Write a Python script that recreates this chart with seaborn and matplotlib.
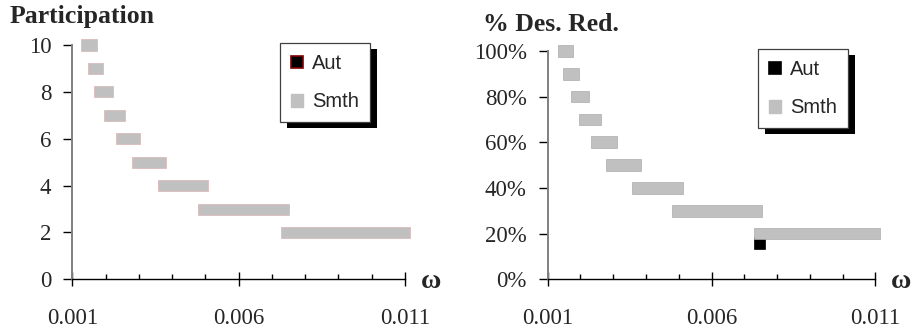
import seaborn as sns
import matplotlib.pyplot as plt
from matplotlib.patches import Patch, Rectangle
from matplotlib.ticker import MultipleLocator, FixedLocator

# Participation ranges (omega from .. to) for each level
part_levels = [10, 9, 8, 7, 6, 5, 4, 3, 2]
part_lo = [0.00125, 0.00148, 0.00166, 0.00196, 0.00232, 0.00280, 0.00358, 0.00477, 0.00727]
part_hi = [0.00173, 0.00191, 0.00221, 0.00257, 0.00304, 0.00381, 0.00507, 0.00750, 0.01116]

# % desired reduction ranges
red_levels = [100, 90, 80, 70, 60, 50, 40, 30, 20]
red_lo = [0.00131, 0.00147, 0.00172, 0.00197, 0.00231, 0.00279, 0.00358, 0.00480, 0.00729]
red_hi = [0.00177, 0.00196, 0.00225, 0.00262, 0.00311, 0.00384, 0.00512, 0.00753, 0.01115]
aut_level = [16]
aut_lo = [0.00729]
aut_hi = [0.00764]

x_ticks = [0.001, 0.006, 0.011]
x_labels = ['0.001', '0.006', '0.011']

sns.set_style('white')
plt.rcParams['font.family'] = ['Liberation Serif', 'DejaVu Serif']

fig = plt.figure(figsize=(9.12, 3.34), dpi=100)
W, H = 912, 334
ax1 = fig.add_axes([72.3 / W, 1 - 279.3 / H, 332.7 / W, 234.3 / H])
ax2 = fig.add_axes([547.7 / W, 1 - 279.3 / H, 327.6 / W, 228.3 / H])


def range_bars(ax, levels, lo, hi, height, color, edge):
    widths = [h - l for l, h in zip(lo, hi)]
    ax.barh(levels, widths, left=lo, height=height, color=color,
            edgecolor=edge, linewidth=0.5, clip_on=False, zorder=3)


def style_axis(ax, yticks, ylabels, ymax):
    ax.set_xlim(0.001, 0.011)
    ax.set_ylim(0, ymax)
    for s in ['top', 'right']:
        ax.spines[s].set_visible(False)
    ax.spines['left'].set_color('#808080')
    ax.spines['left'].set_linewidth(1.4)
    ax.spines['bottom'].set_color('black')
    ax.spines['bottom'].set_linewidth(1.0)
    ax.xaxis.set_major_locator(FixedLocator(x_ticks))
    ax.xaxis.set_minor_locator(MultipleLocator(0.001))
    ax.set_xticklabels(x_labels)
    ax.set_yticks(yticks)
    ax.set_yticklabels(ylabels)
    ax.tick_params(axis='x', which='major', direction='inout', length=9.5,
                   width=1, color='black', pad=16, labelsize=16.5, bottom=True)
    ax.tick_params(axis='x', which='minor', direction='in', length=3.8,
                   width=1, color='black', bottom=True)
    ax.tick_params(axis='y', direction='out', length=6.5, width=1,
                   color='black', pad=8.5, labelsize=16.5, left=True)


range_bars(ax1, part_levels, part_lo, part_hi, 0.47, '#c0c0c0', '#dcb4b4')
style_axis(ax1, [0, 2, 4, 6, 8, 10], ['0', '2', '4', '6', '8', '10'], 10)

range_bars(ax2, aut_level, aut_lo, aut_hi, 5.1, 'black', 'black')
range_bars(ax2, red_levels, red_lo, red_hi, 5.1, '#c0c0c0', '#acacac')
style_axis(ax2, [0, 20, 40, 60, 80, 100],
           ['0%', '20%', '40%', '60%', '80%', '100%'], 100)

fig.text(10 / W, 1 - 23.5 / H, 'Participation', fontsize=18.5, fontweight='bold', va='baseline')
fig.text(482.7 / W, 1 - 31 / H, '% Des. Red.', fontsize=18.5, fontweight='bold', va='baseline')
fig.text(420.5 / W, 1 - 288 / H, 'ω', fontsize=20, fontweight='bold', va='baseline')
fig.text(891 / W, 1 - 288 / H, 'ω', fontsize=20, fontweight='bold', va='baseline')


def legend_with_shadow(pos, aut_edge):
    handles = [Patch(facecolor='black', edgecolor=aut_edge, linewidth=1.2, label='Aut'),
               Patch(facecolor='#c0c0c0', edgecolor='#c0c0c0', label='Smth')]
    leg = fig.legend(handles=handles, loc='upper left',
                     bbox_to_anchor=(pos[0] / W, 1 - pos[1] / H), borderaxespad=0,
                     prop={'family': 'Liberation Sans', 'size': 14.5},
                     handlelength=0.6, handleheight=0.6, handletextpad=0.45,
                     labelspacing=0.95, borderpad=0.55, fancybox=False,
                     framealpha=1, edgecolor='#404040')
    leg.get_frame().set_linewidth(0.9)
    leg.set_zorder(5)
    return leg


legs = [legend_with_shadow((280, 43), '#800000'), legend_with_shadow((758, 49), 'black')]
fig.canvas.draw()
for leg in legs:
    bb = leg.get_frame().get_window_extent().transformed(fig.transFigure.inverted())
    fig.patches.append(Rectangle((bb.x0 + 7 / W, bb.y0 - 6 / H), bb.width, bb.height,
                                 transform=fig.transFigure, facecolor='black',
                                 edgecolor='none', zorder=4))

fig.savefig('out.png', dpi=100)
